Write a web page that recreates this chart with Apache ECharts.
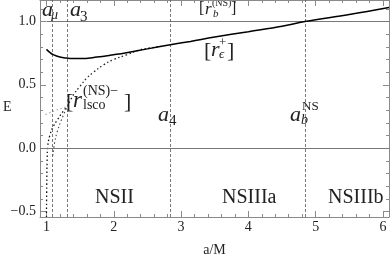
<!DOCTYPE html>
<html><head><meta charset="utf-8">
<script src="https://cdn.jsdelivr.net/npm/echarts@6/dist/echarts.min.js"></script>
<style>html,body{margin:0;padding:0;background:#fff}#c{width:391px;height:254px}</style>
</head><body><div id="c"></div>
<script>
// ---- axis ticks ----
const xMajor = [1, 2, 3, 4, 5, 6];
const xMinor = [1.2,1.4,1.6,1.8,2.2,2.4,2.6,2.8,3.2,3.4,3.6,3.8,4.2,4.4,4.6,4.8,5.2,5.4,5.6,5.8];
const yMajor = [-0.5, 0, 0.5, 1.0];
const yMinor = [-0.4,-0.3,-0.2,-0.1,0.1,0.2,0.3,0.4,0.6,0.7,0.8,0.9,1.1];

// ---- solid curve [r_eps^+] ----
const aEps = [1.0,1.05,1.1,1.2,1.3,1.4,1.5,1.75,2.0,2.19,2.5,2.84,3.14,3.5,4.0,4.5,4.84,5.5,6.09];
const eEps = [0.78,0.756,0.738,0.719,0.711,0.707,0.707,0.719,0.738,0.754,0.784,0.816,0.843,0.877,0.920,0.963,1.0,1.055,1.11];

// ---- dotted curve [r_lsco^(NS)-] ----
const aLsco = [1.31,1.4,1.5,1.6,1.7,1.85,2.0,2.19,2.39,2.55,2.7];
const eLsco = [0.33,0.42,0.49,0.554,0.60,0.659,0.70,0.737,0.777,0.792,0.805];

// ---- lower-left dotted branches ----
const aBr1 = [1.0,1.004,1.01,1.02,1.05,1.1,1.17,1.24,1.31];
const eBr1 = [-0.544,-0.3,-0.1,0.02,0.1,0.17,0.23,0.285,0.33];
const aBr2 = [1.094,1.12,1.16,1.22,1.31];
const eBr2 = [-0.06,0.04,0.13,0.22,0.33];
const aBr3 = [0.985,1.05,1.12,1.2,1.31];
const eBr3 = [0.264,0.28,0.295,0.31,0.33];

// ---- reference lines ----
const aLines = [1.094, 1.307, 2.84, 4.84];
const aUnity = [1.0, 6.09];
const eUnity = [1.0, 1.0];

const xMin = 0.904, xMax = 6.09, yMin = -0.544, yMax = 1.17;
const zip = (a, e) => a.map((v, i) => [v, e[i]]);

const frame = '#8a8a8a', txt = '#222', serif = '"Liberation Serif","DejaVu Serif",serif';

function xAx(pos, vals, len, labels, line) {
  return {type:'value', min:xMin, max:xMax, position:pos,
    axisLine:{show:line, onZero:false, lineStyle:{color:frame, width:1}},
    axisTick:{show:true, inside:true, length:len, customValues:vals, lineStyle:{color:frame}},
    axisLabel:labels ? {show:true, customValues:vals, color:txt, fontFamily:serif, fontSize:14, margin:3} : {show:false},
    splitLine:{show:false}};
}
function yAx(pos, vals, len, labels, line) {
  return {type:'value', min:yMin, max:yMax, position:pos,
    axisLine:{show:line, onZero:false, lineStyle:{color:frame, width:1}},
    axisTick:{show:true, inside:true, length:len, customValues:vals, lineStyle:{color:frame}},
    axisLabel:labels ? {show:true, customValues:vals, color:txt, fontFamily:serif, fontSize:14, margin:4,
      formatter:v => v.toFixed(1).replace('-', '\u2212')} : {show:false},
    splitLine:{show:false}};
}

const xs = [xAx('bottom', xMajor, 6, true, true), xAx('bottom', xMinor, 3, false, false),
            xAx('top', xMajor, 6, false, true), xAx('top', xMinor, 3, false, false)];
xs[0].name = 'a/M'; xs[0].nameLocation = 'middle'; xs[0].nameGap = 26;
xs[0].nameTextStyle = {color:txt, fontFamily:serif, fontSize:14};
const ys = [yAx('left', yMajor, 6, true, true), yAx('left', yMinor, 3, false, false),
            yAx('right', yMajor, 6, false, true), yAx('right', yMinor, 3, false, false)];

function T(x, y, text, size, italic, color) {
  return {type:'text', x:x, y:y, silent:true, style:{text:text, fill:color || txt,
    font:(italic ? 'italic ' : '') + size + 'px ' + serif, align:'left', verticalAlign:'middle'}};
}

const labels = [
  T(3, 107, 'E', 14, false),
  // a_mu
  T(42, 10, 'a', 22, true), T(51, 15, '\u03bc', 14, true),
  // a_3
  T(70, 10, 'a', 22, true), T(80, 17, '3', 15, false),
  // [r_b^(NS)]
  T(199, 9, '[', 16, false), T(205, 10, 'r', 17, true), T(212, 3, '(NS)', 10, false), T(213, 14, 'b', 11, true), T(231, 9, ']', 16, false),
  // [r_eps^+]
  T(204, 51, '[', 22, false), T(211, 50, 'r', 22, true), T(219, 43, '+', 13, false), T(219, 55, '\u03f5', 13, true), T(227, 51, ']', 22, false),
  // [r_lsco^(NS)-]
  T(66, 102, '[', 22, false), T(73, 101, 'r', 23, true), T(83, 91, '(NS)\u2212', 14, false), T(83, 105, 'lsco', 14, false), T(124, 102, ']', 22, false),
  // a_4
  T(158, 115, 'a', 22, true), T(169, 121, '4', 15, false),
  // a_b^NS
  T(290, 115, 'a', 22, true), T(302, 107, 'NS', 13, false), T(301, 120, 'b', 14, true),
  // regions
  T(95, 198, 'NSII', 20, false), T(222, 198, 'NSIIIa', 20, false), T(328, 198, 'NSIIIb', 20, false)
];

const chart = echarts.init(document.getElementById('c'), null, {renderer:'canvas'});
chart.setOption({
  animation:false,
  backgroundColor:'#fff',
  grid:{left:40, right:2, top:0, bottom:37, containLabel:false, outerBoundsMode:'none'},
  xAxis:xs, yAxis:ys,
  series:[
    {type:'line', data:zip(aUnity, eUnity), symbol:'none', lineStyle:{color:'#777', width:1}, z:1,
     markLine:{silent:true, symbol:'none', label:{show:false},
       lineStyle:{color:'#555', type:[3,2], width:0.8},
       data:aLines.map(v => ({xAxis:v}))}},
    {type:'line', data:[], symbol:'none',
     markLine:{silent:true, symbol:'none', label:{show:false}, lineStyle:{color:'#777', type:'solid', width:1},
       data:[{yAxis:0}]}},
    {type:'line', data:zip(aEps, eEps), smooth:0.4, symbol:'none', lineStyle:{color:'#000', width:1.5}, z:5},
    {type:'line', data:zip(aLsco, eLsco), smooth:0.4, symbol:'none', lineStyle:{color:'#222', width:1.3, type:[1.5,2.5]}, z:4},
    {type:'line', data:zip(aBr1, eBr1), smooth:0.4, symbol:'none', lineStyle:{color:'#111', width:1.3, type:[1.5,2.5]}, z:4},
    {type:'line', data:zip(aBr2, eBr2), smooth:0.4, symbol:'none', lineStyle:{color:'#444', width:1.1, type:[1.5,2.5]}, z:4},
    {type:'line', data:zip(aBr3, eBr3), smooth:0.4, symbol:'none', lineStyle:{color:'#aaa', width:1.1, type:[1.5,2.5]}, z:3}
  ],
  graphic:labels
});
</script></body></html>
